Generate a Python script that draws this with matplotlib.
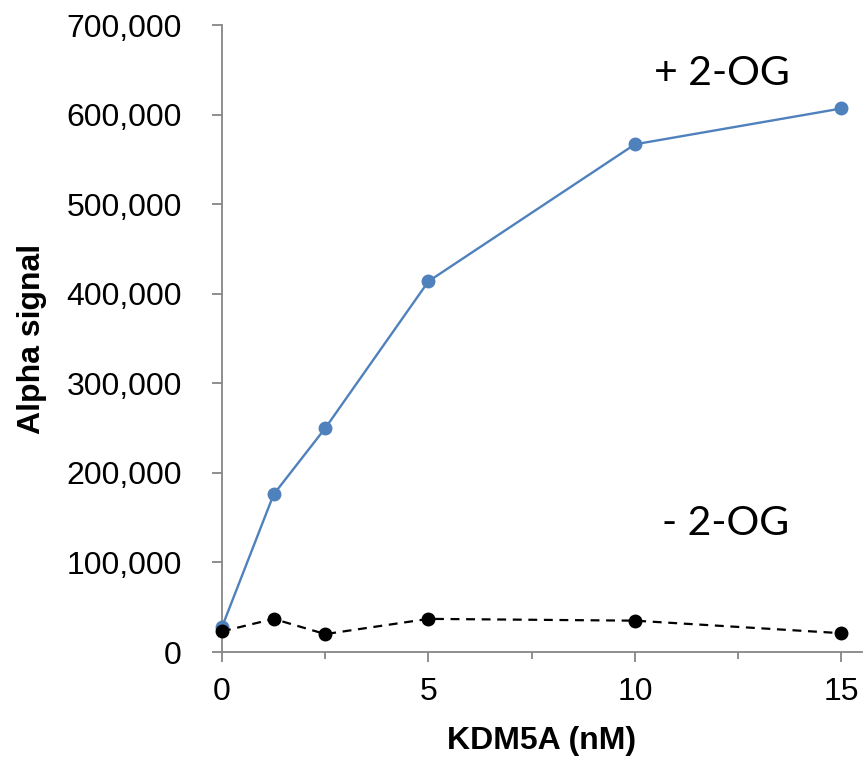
import matplotlib.pyplot as plt
from matplotlib.ticker import FuncFormatter, MultipleLocator

# KDM5A titration, AlphaScreen read-out with and without 2-OG
kdm5a_nM = [0, 1.25, 2.5, 5, 10, 15]
signal_plus_og = [28000, 176000, 250000, 414000, 567000, 607000]
signal_minus_og = [23000, 37000, 20000, 37000, 35000, 21000]

grey = "#868686"
blue = "#4F81BD"

plt.rcParams['font.family'] = ['Liberation Sans', 'DejaVu Sans']

fig = plt.figure(figsize=(8.66, 7.57), dpi=100)
ax = fig.add_axes([0.2564, 0.1387, 0.739, 0.828])

ax.plot(kdm5a_nM, signal_plus_og, color=blue, lw=1.7, marker='o', ms=9,
        clip_on=False, zorder=3)
ax.plot(kdm5a_nM, signal_minus_og, color='black', lw=1.6, ls=(0, (4, 3)),
        marker='o', ms=9, clip_on=False, zorder=4)

ax.set_xlim(0, 15.5)
ax.set_ylim(0, 700000)
ax.xaxis.set_major_locator(MultipleLocator(5))
ax.xaxis.set_minor_locator(MultipleLocator(2.5))
ax.yaxis.set_major_locator(MultipleLocator(100000))
ax.yaxis.set_major_formatter(FuncFormatter(lambda v, p: f"{int(v):,}"))

for side in ('top', 'right'):
    ax.spines[side].set_visible(False)
for side in ('left', 'bottom'):
    ax.spines[side].set_color(grey)
    ax.spines[side].set_linewidth(1.3)

ax.tick_params(axis='both', which='major', color=grey, width=1.3, length=7,
               labelsize=23, direction='out')
ax.tick_params(axis='x', which='minor', color=grey, width=1.3, length=5,
               direction='out')
ax.tick_params(axis='x', which='major', pad=11)
ax.tick_params(axis='y', pad=22)

ax.set_xlabel("KDM5A (nM)", fontsize=23, fontweight='bold', labelpad=14)
ax.set_ylabel("Alpha signal", fontsize=23, fontweight='bold', labelpad=14)

ax.text(12.1, 646000, "+ 2-OG", fontsize=29.5, family=['Lato', 'DejaVu Sans'],
        ha='center', va='center')
ax.text(12.2, 143000, "- 2-OG", fontsize=29.5, family=['Lato', 'DejaVu Sans'],
        ha='center', va='center')

fig.savefig("out.png", dpi=100)
